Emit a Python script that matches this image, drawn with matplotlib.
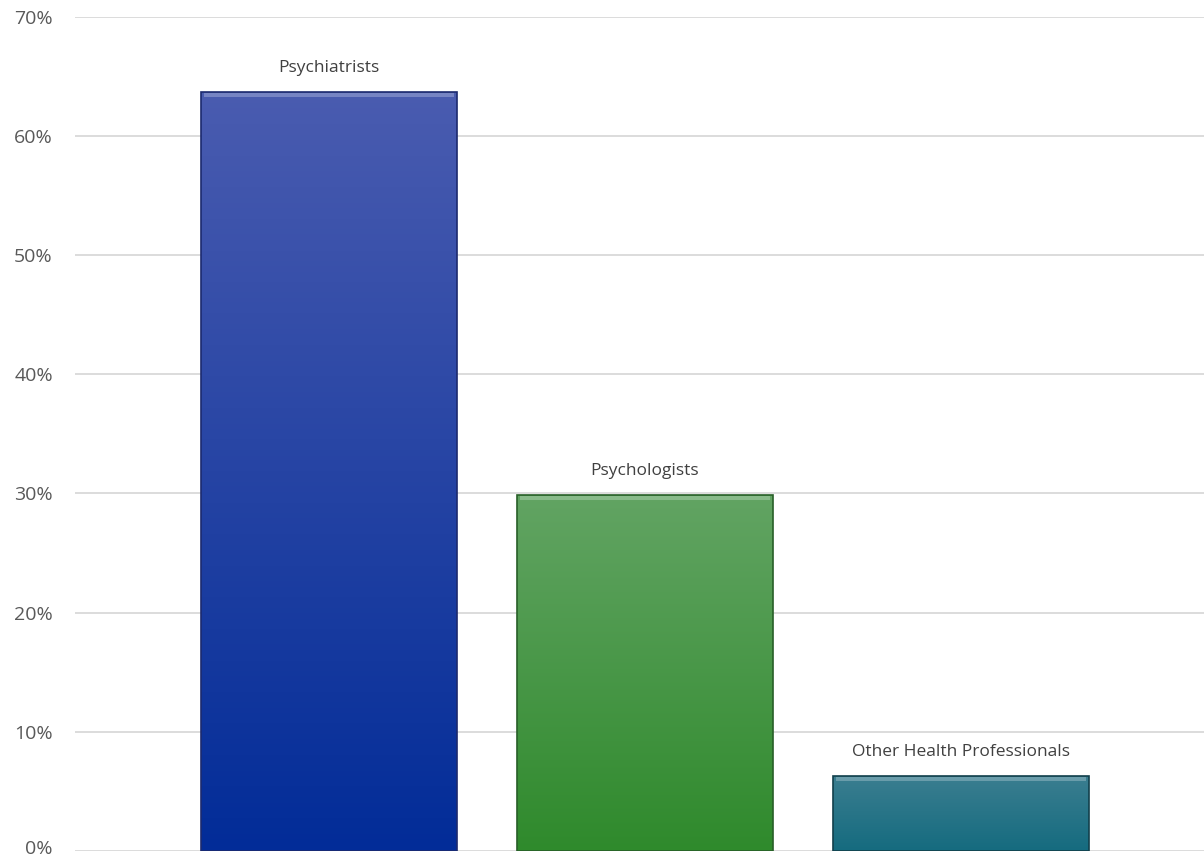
import numpy as np
import matplotlib.pyplot as plt
import matplotlib.transforms as mtransforms
from matplotlib.colors import LinearSegmentedColormap

# data
categories = ["Psychiatrists", "Psychologists", "Other Health Professionals"]
shares = [63.7, 29.9, 6.3]
top_colors = ["#4a5cb0", "#62a463", "#3b7e90"]
bottom_colors = ["#022c98", "#2f8a2c", "#156b7f"]
edge_colors = ["#1c2a6e", "#285f28", "#12404c"]
yticks = [0, 10, 20, 30, 40, 50, 60, 70]

fig = plt.figure(figsize=(12.04, 8.59), dpi=100)
ax = fig.add_axes([75 / 1204, 1 - 851 / 859, 1 - 75 / 1204, (851 - 16.5) / 859])

x = np.arange(len(categories))
width = 0.81
ax.set_xlim(-0.804, 2.769)
ax.set_ylim(0, 70)

# gridlines
for t in yticks:
    ax.axhline(t, color="#d9d9d9", lw=1.3, zorder=0)

bars = ax.bar(x, shares, width=width, color="none", edgecolor="none", zorder=2)
for b, tc, bc, ec, lab in zip(bars, top_colors, bottom_colors, edge_colors, categories):
    x0, w, h = b.get_x(), b.get_width(), b.get_height()
    cmap = LinearSegmentedColormap.from_list("g", [bc, tc])
    grad = np.linspace(0, 1, 256).reshape(-1, 1)
    im = ax.imshow(grad, cmap=cmap, origin="lower", aspect="auto",
                   extent=[x0, x0 + w, 0, h], zorder=2)
    im.set_clip_path(b)
    # bevel highlight at top
    ax.fill_between([x0 + 0.01, x0 + w - 0.01], h - 0.45, h - 0.1,
                    color="white", alpha=0.25, lw=0, zorder=3)
    # edge outline
    ax.add_patch(plt.Rectangle((x0, 0), w, h, fill=False, edgecolor=ec,
                               lw=1.2, zorder=4))
    ax.annotate(lab, (b.get_x() + w / 2, h), xytext=(0, 17),
                textcoords="offset points", ha="center", va="center",
                fontsize=12.5, color="#404040", family="Open Sans")

ax.set_xticks([])
ax.set_yticks(yticks)
ax.set_yticklabels([f"{t}%" for t in yticks], fontsize=14, color="#595959",
                   family="Open Sans")
ax.tick_params(axis="y", length=0, pad=16)
for s in ax.spines.values():
    s.set_visible(False)

# nudge the 0% label up so it is not clipped at the bottom edge
lbl0 = ax.get_yticklabels()[0]
lbl0.set_transform(lbl0.get_transform() +
                   mtransforms.ScaledTranslation(0, 4 / 100, fig.dpi_scale_trans))

fig.savefig("out.png", dpi=100)
